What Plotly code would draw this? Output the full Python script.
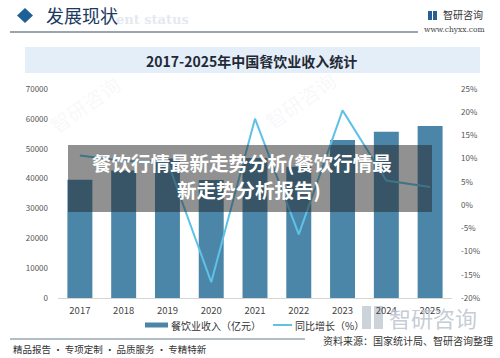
import plotly.graph_objects as go

# ---- data ----
years = ["2017", "2018", "2019", "2020", "2021", "2022", "2023", "2024", "2025"]
revenue = [39644, 42716, 46721, 39527, 46895, 43941, 52890, 55718, 57600]
growth = [10.7, 9.5, 9.4, -16.6, 18.6, -6.3, 20.4, 5.3, 3.9]
left_ticks = [0, 10000, 20000, 30000, 40000, 50000, 60000, 70000]
right_ticks = [-20, -15, -10, -5, 0, 5, 10, 15, 20, 25]
right_labels = [f"{v}%" for v in right_ticks]

FONT = "Noto Sans CJK SC"
BAR_C = "#4b86a8"
LINE_C = "#5ec2e8"

W, H = 500, 358
PL, PR, PT, PB = 58, 452, 89, 298


def fx(x):
    return (x - PL) / (PR - PL)


def fy(y):
    return (PB - y) / (PB - PT)


def text(x, y, t, size, color, xanchor="center", family=FONT, angle=0):
    return dict(x=fx(x), y=fy(y), xref="paper", yref="paper", text=t, showarrow=False,
                xanchor=xanchor, yanchor="middle", textangle=angle,
                font=dict(family=family, size=size, color=color))


fig = go.Figure()
fig.add_trace(go.Bar(x=years, y=revenue, marker_color=BAR_C, marker_line_width=0,
                     name="餐饮业收入（亿元）", yaxis="y"))
fig.add_trace(go.Scatter(x=years, y=growth, mode="lines", line=dict(color=LINE_C, width=2),
                         name="同比增长（%）", yaxis="y2"))

shapes = []
ann = []

# faint watermarks
for (x, y) in [(85, 105), (300, 100)]:
    ann.append(text(x, y, "智研咨询", 20, "rgba(170,182,195,0.10)", angle=-35))

# header
shapes.append(dict(type="path", xref="paper", yref="paper",
                   path=f"M {fx(17)},{fy(15.5)} L {fx(25)},{fy(8)} L {fx(33)},{fy(15.5)} L {fx(25)},{fy(23)} Z",
                   fillcolor="#1f5f98", line=dict(width=0)))
ann.append(text(114, 20, "<b>ent status</b>", 13, "#e4e9ef", xanchor="left", family="DejaVu Serif"))
ann.append(text(44, 15, "发展现状", 18, "#1b3a5e", xanchor="left"))
shapes.append(dict(type="line", xref="paper", yref="paper", x0=fx(10), x1=fx(418), y0=fy(32), y1=fy(32),
                   line=dict(color="#7a8794", width=1.5)))
# top right logo
shapes.append(dict(type="rect", xref="paper", yref="paper", x0=fx(428), x1=fx(432), y0=fy(20), y1=fy(11),
                   fillcolor="#2a5d92", line=dict(width=0)))
shapes.append(dict(type="rect", xref="paper", yref="paper", x0=fx(433), x1=fx(437), y0=fy(20), y1=fy(11),
                   fillcolor="#2a5d92", line=dict(width=0)))
ann.append(text(441, 15, "智研咨询", 10, "#333", xanchor="left"))
ann.append(text(487, 30, "www.chyxx.com", 7.5, "#444", xanchor="right", family="DejaVu Serif"))

# title box
shapes.append(dict(type="rect", xref="paper", yref="paper", x0=fx(25), x1=fx(480), y0=fy(73), y1=fy(47),
                   fillcolor="#e4eef8", line=dict(width=0), layer="below"))
ann.append(text(251, 61, "<b>2017-2025年中国餐饮业收入统计</b>", 14, "#1f2a36"))

# overlay banner
shapes.append(dict(type="rect", xref="paper", yref="paper", x0=fx(68), x1=fx(432), y0=fy(212), y1=fy(145),
                   fillcolor="rgba(35,35,35,0.5)", line=dict(width=0), layer="above"))
ann.append(text(242, 162, "<b>餐饮行情最新走势分析(餐饮行情最</b>", 19.5, "white"))
ann.append(text(249, 189, "<b>新走势分析报告)</b>", 19.5, "white"))

# legend (manual)
shapes.append(dict(type="rect", xref="paper", yref="paper", x0=fx(145), x1=fx(168), y0=fy(327.5), y1=fy(322.5),
                   fillcolor=BAR_C, line=dict(width=0)))
ann.append(text(169, 325, "餐饮业收入（亿元）", 10, "#333", xanchor="left"))
shapes.append(dict(type="line", xref="paper", yref="paper", x0=fx(273), x1=fx(292), y0=fy(325), y1=fy(325),
                   line=dict(color=LINE_C, width=2)))
ann.append(text(293, 325, "同比增长（%）", 10, "#333", xanchor="left"))

# big watermark bottom right
shapes.append(dict(type="rect", xref="paper", yref="paper", x0=fx(362), x1=fx(371), y0=fy(329), y1=fy(306),
                   fillcolor="#ccd3da", line=dict(width=0), layer="below"))
shapes.append(dict(type="rect", xref="paper", yref="paper", x0=fx(374), x1=fx(383), y0=fy(329), y1=fy(306),
                   fillcolor="#ccd3da", line=dict(width=0), layer="below"))
ann.append(text(387, 317, "智研咨询", 22, "rgba(190,198,207,0.9)", xanchor="left"))

# bottom
shapes.append(dict(type="line", xref="paper", yref="paper", x0=fx(10), x1=fx(305), y0=fy(339), y1=fy(339),
                   line=dict(color="#9aa7b2", width=1.5)))
ann.append(text(11, 349, "精品报告 · 专项定制 · 品质服务 · 专精特新", 9.5, "#333", xanchor="left"))
ann.append(text(495, 340, "资料来源：国家统计局、智研咨询整理", 10, "#333", xanchor="right"))

fig.update_layout(
    width=W, height=H,
    margin=dict(l=PL, r=W - PR, t=PT, b=H - PB, pad=0),
    paper_bgcolor="white", plot_bgcolor="rgba(0,0,0,0)",
    showlegend=False, bargap=0.43,
    font=dict(family=FONT, color="#555"),
    xaxis=dict(type="category", showgrid=False, showline=True, linecolor="#d5d5d5", linewidth=1,
               ticks="", tickfont=dict(size=9.5, color="#444"), ticklabelstandoff=4, fixedrange=True),
    yaxis=dict(range=[0, 70000], tickvals=left_ticks, ticktext=[str(v) for v in left_ticks],
               showgrid=False, zeroline=False, showline=False, ticks="",
               tickfont=dict(size=8, color="#555"), ticklabelstandoff=9),
    yaxis2=dict(range=[-20, 25], tickvals=right_ticks, ticktext=right_labels, overlaying="y", side="right",
                showgrid=False, zeroline=False, showline=False, ticks="",
                tickfont=dict(size=8, color="#555"), ticklabelstandoff=8),
    shapes=shapes, annotations=ann,
)

fig.write_html("out.html")
